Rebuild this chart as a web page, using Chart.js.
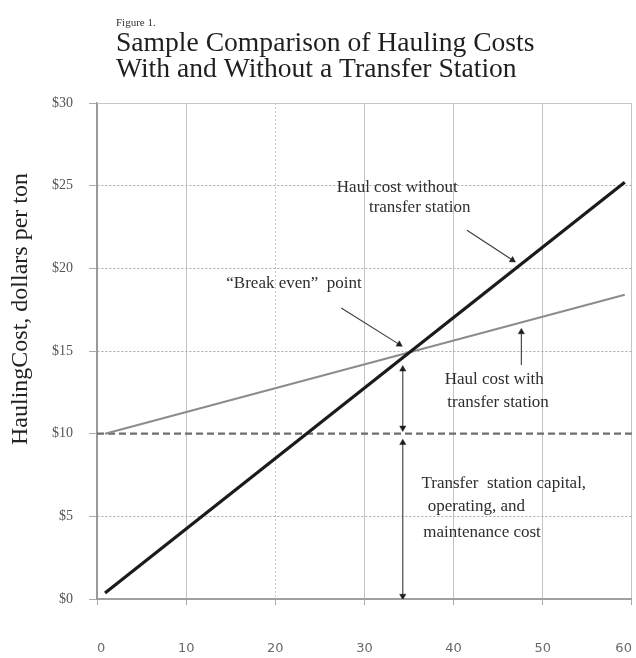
<!DOCTYPE html>
<html><head><meta charset="utf-8">
<script src="https://cdn.jsdelivr.net/npm/chart.js@4.4.1/dist/chart.umd.min.js"></script>
<style>html,body{margin:0;padding:0;background:#fff;}#wrap{width:636px;height:658px;}</style>
</head><body><div id="wrap"><canvas id="c" width="636" height="658"></canvas></div>
<script>
// ---- data ----
const xTicks = [0, 10, 20, 30, 40, 50, 60];           // miles (unlabelled axis)
const yTicks = [0, 5, 10, 15, 20, 25, 30];            // dollars per ton
const yTickLabels = ['$0', '$5', '$10', '$15', '$20', '$25', '$30'];
const withoutStation = [{x: 0.9, y: 0.36}, {x: 59.2, y: 25.2}];
const withStation = [{x: 0.9, y: 10.0}, {x: 59.2, y: 18.4}];
const stationCost = [{x: 0, y: 10}, {x: 60, y: 10}];
const arrowWithout = [{x: 41.5, y: 22.3}, {x: 46.6, y: 20.5}];
const arrowBreakEven = [{x: 27.4, y: 17.6}, {x: 33.9, y: 15.4}];
const arrowWith = [{x: 47.6, y: 14.15}, {x: 47.6, y: 16.15}];
const arrowUpper = [{x: 34.3, y: 13.9}, {x: 34.3, y: 10.35}];
const arrowLower = [{x: 34.3, y: 9.45}, {x: 34.3, y: 0.18}];

const noteLines = [
  {t: 'Haul cost without', x: 26.9, y: 24.9, a: 'left'},
  {t: 'transfer station', x: 30.5, y: 23.7, a: 'left'},
  {t: '\u201cBreak even\u201d  point', x: 29.7, y: 19.1, a: 'right'},
  {t: 'Haul cost with', x: 39.0, y: 13.25, a: 'left'},
  {t: 'transfer station', x: 39.3, y: 11.86, a: 'left'},
  {t: 'Transfer  station capital,', x: 36.4, y: 7.0, a: 'left'},
  {t: 'operating, and', x: 37.1, y: 5.57, a: 'left'},
  {t: 'maintenance cost', x: 36.6, y: 4.05, a: 'left'}
];

const SERIF = '"Liberation Serif", "DejaVu Serif", serif';

function arrowDataset(points, both) {
  return {
    data: points,
    borderColor: '#3a3a3a',
    borderWidth: 1.1,
    pointStyle: 'triangle',
    pointBackgroundColor: '#1e1e1e',
    pointBorderColor: '#1e1e1e',
    pointBorderWidth: 0.5,
    pointRadius: c => (both || c.dataIndex === 1) ? 3.6 : 0,
    pointHoverRadius: c => (both || c.dataIndex === 1) ? 3.6 : 0,
    pointRotation: c => {
      const ch = c.chart, xs = ch.scales.x, ys = ch.scales.y;
      const d = c.dataset.data, i = c.dataIndex, j = 1 - i;
      const dx = xs.getPixelForValue(d[i].x) - xs.getPixelForValue(d[j].x);
      const dy = ys.getPixelForValue(d[i].y) - ys.getPixelForValue(d[j].y);
      return Math.atan2(dx, -dy) * 180 / Math.PI;
    },
    fill: false, tension: 0, order: 0
  };
}

const textPlugin = {
  id: 'texts',
  afterDatasetsDraw(chart) {
    const ctx = chart.ctx, xs = chart.scales.x, ys = chart.scales.y;
    ctx.save();
    ctx.fillStyle = '#2e2e2e';
    ctx.font = '17px ' + SERIF;
    ctx.textBaseline = 'middle';
    noteLines.forEach(n => {
      ctx.textAlign = n.a;
      ctx.fillText(n.t, xs.getPixelForValue(n.x), ys.getPixelForValue(n.y));
    });
    ctx.restore();
  },
  afterDraw(chart) {
    const ctx = chart.ctx;
    ctx.save();
    ctx.fillStyle = '#333';
    ctx.textAlign = 'left';
    ctx.textBaseline = 'alphabetic';
    ctx.font = '11px ' + SERIF;
    ctx.fillText('Figure 1.', 116, 26);
    ctx.fillStyle = '#1f1f1f';
    ctx.font = '27.6px ' + SERIF;
    ctx.fillText('Sample Comparison of Hauling Costs', 116, 51);
    ctx.fillText('With and Without a Transfer Station', 116, 77);
    // y axis title
    ctx.translate(21, 309);
    ctx.rotate(-Math.PI / 2);
    ctx.textAlign = 'center';
    ctx.textBaseline = 'middle';
    ctx.font = '24px ' + SERIF;
    ctx.fillStyle = '#222';
    ctx.fillText('HaulingCost, dollars per ton', 0, 0);
    ctx.restore();
  }
};

new Chart(document.getElementById('c'), {
  type: 'line',
  data: {
    datasets: [
      {label: 'Haul cost without transfer station', data: withoutStation, borderColor: '#1b1b1b', borderWidth: 3.2, pointRadius: 0, tension: 0, order: 2},
      {label: 'Haul cost with transfer station', data: withStation, borderColor: '#8c8c8c', borderWidth: 2, pointRadius: 0, tension: 0, order: 3},
      {label: 'Transfer station cost', data: stationCost, borderColor: '#6e6e6e', borderWidth: 2.4, borderDash: [7, 4], pointRadius: 0, tension: 0, order: 4},
      arrowDataset(arrowWithout, false),
      arrowDataset(arrowBreakEven, false),
      arrowDataset(arrowWith, false),
      arrowDataset(arrowUpper, true),
      arrowDataset(arrowLower, true)
    ]
  },
  options: {
    responsive: false,
    animation: false,
    layout: {padding: {top: 103, right: 3, left: 0, bottom: 0}},
    plugins: {legend: {display: false}, title: {display: false}, tooltip: {enabled: false}},
    scales: {
      x: {
        type: 'linear', min: 0, max: 60,
        afterBuildTicks: s => { s.ticks = xTicks.map(v => ({value: v})); },
        afterFit: s => { s.height = 59; s.paddingLeft = 0; s.paddingRight = 0; },
        ticks: {padding: 36, align: 'inner', color: '#6a6a6a', font: {family: '"DejaVu Sans", sans-serif', size: 13}},
        grid: {
          color: c => (c.tick && c.tick.value === 0) ? '#9a9a9a' : '#c4c4c4',
          lineWidth: 1, tickLength: 6, tickColor: '#aaa'
        },
        border: {
          display: true, color: '#a0a0a0', width: 2,
          dash: c => (c.tick && c.tick.value === 20) ? [2, 2] : []
        }
      },
      y: {
        type: 'linear', min: 0, max: 30,
        afterBuildTicks: s => { s.ticks = yTicks.map(v => ({value: v})); },
        afterFit: s => { s.width = 97; },
        ticks: {padding: 16, color: '#555', font: {family: SERIF, size: 14},
          callback: (v) => yTickLabels[yTicks.indexOf(v)]},
        grid: {
          color: c => {
            const v = c.tick ? c.tick.value : null;
            if (v === 0) return '#a0a0a0';
            if (v === 30) return '#c8c8c8';
            if (v === 10) return 'rgba(0,0,0,0)';
            return '#a8a8a8';
          },
          lineWidth: 1, tickLength: 8, tickColor: '#aaa'
        },
        border: {
          display: true, color: '#999', width: 1.4,
          dash: c => {
            const v = c.tick ? c.tick.value : null;
            return (v === 5 || v === 15 || v === 20 || v === 25) ? [2, 2] : [];
          }
        }
      }
    }
  },
  plugins: [textPlugin]
});
</script>
</body></html>
